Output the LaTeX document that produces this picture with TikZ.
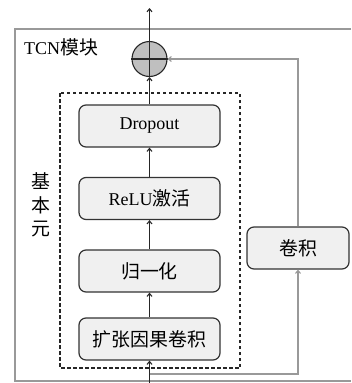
\documentclass[tikz,border=0pt]{standalone}
\usepackage{fontspec}
\setmainfont{Liberation Serif}
\newfontfamily\cjk[Scale=1.05]{Noto Sans CJK SC}
\usetikzlibrary{arrows.meta}
\begin{document}
\begin{tikzpicture}[x=1pt,y=-1pt,
  blk/.style={draw=black!80, line width=1.2pt, fill=black!6, rounded corners=7pt,
    minimum width=141pt, minimum height=42pt, inner sep=0pt,
    font=\fontsize{18}{20}\selectfont},
  ar/.style={-{Straight Barb[length=3pt,width=5pt]}, line width=1.1pt, draw=black!85},
  gar/.style={-{Straight Barb[length=3pt,width=5pt]}, line width=1.1pt, draw=black!40},
  lbl/.style={inner sep=0pt, font=\fontsize{18}{23.5}\selectfont}]
\useasboundingbox (0,0) rectangle (351,383);
% outer module frame
\draw[black!40, line width=2pt] (351,29) -- (15,29) -- (15,381) -- (351,381);
\node[lbl, anchor=west] (tcn) at (24,47) {TCN{\cjk 模块}};
% dashed basic unit
\draw[black!85, line width=1.1pt, dash pattern=on 3.5pt off 2.5pt] (60,93) rectangle (240,368);
\node[lbl, align=center] (unit) at (41,205) {\cjk 基\\\cjk 本\\\cjk 元};
% blocks
\node[blk] (drop) at (149.5,126) {Dropout};
\node[blk] (relu) at (149.5,198.5) {ReLU{\cjk 激活}};
\node[blk] (norm) at (149.5,271) {\cjk 归一化};
\node[blk] (dil) at (149.5,339) {\cjk 扩张因果卷积};
\node[blk, minimum width=102pt] (conv) at (298,248) {\cjk 卷积};
% sum
\node[circle, draw=black!85, line width=1.1pt, fill=black!25, minimum size=35pt, inner sep=0pt] (sum) at (149.5,59) {};
\draw[line width=1.1pt, black!85] (sum.west) -- (sum.east) (sum.north) -- (sum.south);
\coordinate (in) at (149.5,383);
\coordinate (out) at (149.5,8);
\coordinate (br) at (149.5,374);
% main path
\draw[ar] (in) -- (dil.south);
\draw[ar] (dil.north) -- (norm.south);
\draw[ar] (norm.north) -- (relu.south);
\draw[ar] (relu.north) -- (drop.south);
\draw[ar] (drop.north) -- (sum.south);
\draw[ar] (sum.north) -- (out);
% residual path
\draw[gar] (br) -| (conv.south);
\draw[gar] (conv.north) |- (sum.east);
\end{tikzpicture}
\end{document}
